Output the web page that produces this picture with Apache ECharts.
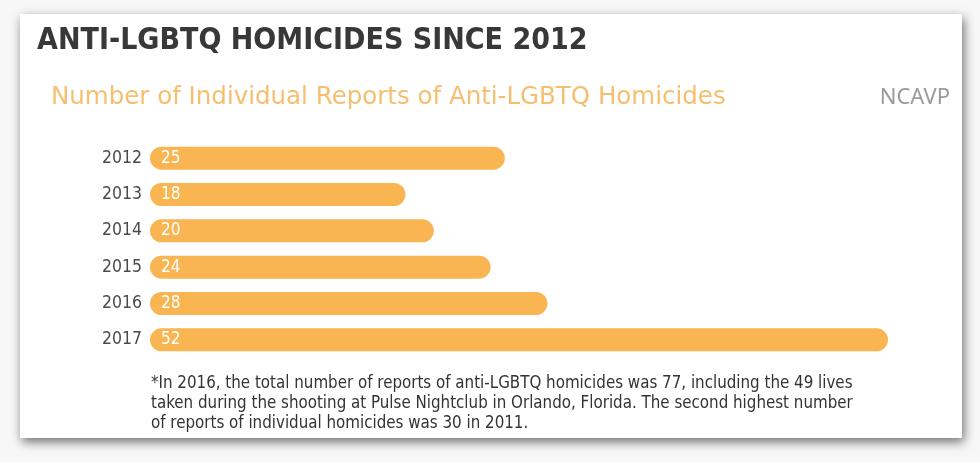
<!DOCTYPE html>
<html><head><meta charset="utf-8">
<script src="https://cdn.jsdelivr.net/npm/echarts@6/dist/echarts.min.js"></script>
<style>html,body{margin:0;padding:0;background:#f7f7f7}#c{width:980px;height:462px}</style>
</head><body><div id="c"></div>
<script>
const years = ['2012','2013','2014','2015','2016','2017'];
const homicides = [25, 18, 20, 24, 28, 52];
const titleText = 'ANTI-LGBTQ HOMICIDES SINCE 2012';
const subtitleText = 'Number of Individual Reports of Anti-LGBTQ Homicides';
const sourceText = 'NCAVP';
const footnoteText = '*In 2016, the total number of reports of anti-LGBTQ homicides was 77, including the 49 lives\ntaken during the shooting at Pulse Nightclub in Orlando, Florida. The second highest number\nof reports of individual homicides was 30 in 2011.';

const condensed = 'DejaVu Sans Condensed, Liberation Sans Narrow, sans-serif';
const chart = echarts.init(document.getElementById('c'));
chart.setOption({
  backgroundColor: '#f7f7f7',
  animation: false,
  graphic: [{
    type: 'rect', z: -10,
    shape: {x: 20, y: 14, width: 942, height: 424},
    style: {fill: '#ffffff', shadowBlur: 10, shadowColor: 'rgba(0,0,0,0.55)', shadowOffsetX: 2, shadowOffsetY: 4}
  }],
  title: [
    {text: titleText, left: 32, top: 21,
     textStyle: {fontFamily: condensed, fontWeight: 900, fontSize: 30, color: '#383838'}},
    {text: subtitleText, left: 46, top: 80,
     textStyle: {fontFamily: 'DejaVu Sans, sans-serif', fontWeight: 'normal', fontSize: 24.5, color: '#F6BF70'}},
    {text: sourceText, right: 25, top: 82,
     textStyle: {fontFamily: 'Noto Sans, sans-serif', fontWeight: 'normal', fontSize: 22, color: '#9a9a9a'}},
    {text: footnoteText, left: 146, top: 369,
     textStyle: {fontFamily: condensed, fontWeight: 'normal', fontSize: 16.8, lineHeight: 20, color: '#333333'}}
  ],
  grid: {left: 150, right: 92, top: 140, bottom: 104, containLabel: false},
  xAxis: {type: 'value', min: 0, max: 52, show: false},
  yAxis: {
    type: 'category', data: years, inverse: true,
    axisLine: {show: false}, axisTick: {show: false},
    axisLabel: {color: '#4a4a4a', fontSize: 17.5, margin: 8, fontFamily: condensed}
  },
  series: [{
    type: 'bar', data: homicides, barWidth: 23,
    itemStyle: {color: '#F8B552', borderRadius: 12},
    label: {show: true, position: 'insideLeft', offset: [6, 0], color: '#ffffff', fontSize: 17,
            fontFamily: condensed}
  }]
});
</script></body></html>
